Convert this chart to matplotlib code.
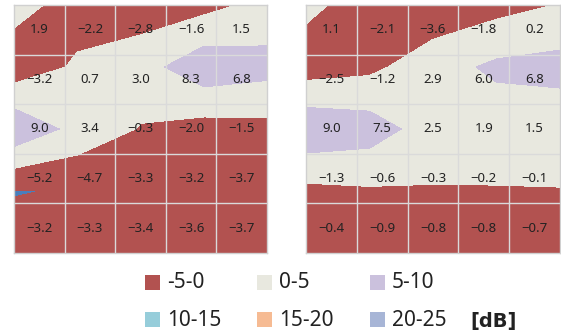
import numpy as np
import matplotlib.pyplot as plt
from matplotlib.patches import Rectangle

# Level difference grids [dB], rows top to bottom
left_vals = [
    [1.9, -2.2, -2.8, -1.6, 1.5],
    [-3.2, 0.7, 3.0, 8.3, 6.8],
    [9.0, 3.4, -0.3, -2.0, -1.5],
    [-5.2, -4.7, -3.3, -3.2, -3.7],
    [-3.2, -3.3, -3.4, -3.6, -3.7],
]
right_vals = [
    [1.1, -2.1, -3.6, -1.8, 0.2],
    [-2.5, -1.2, 2.9, 6.0, 6.8],
    [9.0, 7.5, 2.5, 1.9, 1.5],
    [-1.3, -0.6, -0.3, -0.2, -0.1],
    [-0.4, -0.9, -0.8, -0.8, -0.7],
]

levels = [-10, -5, 0, 5, 10, 15, 20, 25]
band_colors = ['#4A7EBB', '#B25250', '#E8E8DF', '#CBC1DD', '#96CDDA', '#F6BB93', '#A7B5D6']
legend_labels = ['-5-0', '0-5', '5-10', '10-15', '15-20', '20-25']

plt.rcParams['font.family'] = ['Noto Sans', 'DejaVu Sans']

fig = plt.figure(figsize=(5.61, 3.36), dpi=100)
W, H = 561, 336


def panel(rect, vals):
    ax = fig.add_axes(rect)
    z = np.array(vals)
    n = z.shape[0]
    g = np.linspace(0, n, n)
    X, Y = np.meshgrid(g, g)
    ax.contourf(X, Y, z, levels=levels, colors=band_colors)
    ax.set_xlim(0, n)
    ax.set_ylim(n, 0)
    for k in range(1, n):
        ax.axvline(k, color='#DADADA', lw=1)
        ax.axhline(k, color='#DADADA', lw=1)
    for i in range(n):
        for j in range(n):
            ax.text(j + 0.5, i + 0.5, f'{vals[i][j]:.1f}'.replace('-', '\u2212'),
                    ha='center', va='center', fontsize=9.5, color='#222222')
    ax.set_xticks([])
    ax.set_yticks([])
    for s in ax.spines.values():
        s.set_color('#D0D0D0')
        s.set_linewidth(1)
    return ax


panel([14 / W, 1 - 253 / H, 253 / W, 248 / H], left_vals)
panel([306 / W, 1 - 253 / H, 254 / W, 248 / H], right_vals)

# legend, two rows of three
col_x = [145, 257, 370]
row_y = [283, 320]
for k, (lab, c) in enumerate(zip(legend_labels, band_colors[1:])):
    x = col_x[k % 3]
    y = row_y[k // 3]
    fig.add_artist(Rectangle((x / W, 1 - (y + 7) / H), 15 / W, 15 / H,
                             transform=fig.transFigure, color=c, lw=0))
    fig.text((x + 22) / W, 1 - y / H, lab, fontsize=15, va='center', ha='left',
             color='#222222')
fig.text(470 / W, 1 - 321 / H, '[dB]', fontsize=14, va='center', ha='left',
         color='#222222', family='DejaVu Sans', weight='semibold')

fig.savefig('out.png', dpi=100)
